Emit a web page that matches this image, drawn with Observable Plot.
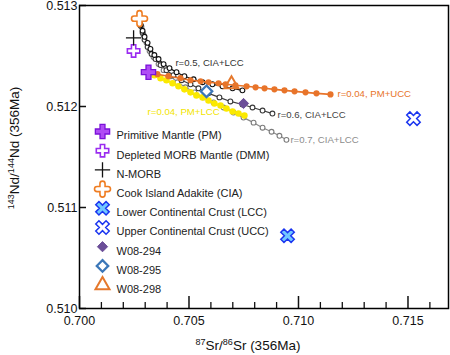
<!DOCTYPE html>
<html><head><meta charset="utf-8">
<script src="https://cdn.jsdelivr.net/npm/d3@7"></script>
<script src="https://cdn.jsdelivr.net/npm/@observablehq/plot@0.6"></script>
<style>
html,body{margin:0;padding:0;background:#fff;}
#chart{width:450px;height:355px;position:relative;}
</style></head><body><div id="chart"></div>
<script>
// ---- Data ----
// End-members: 87Sr/86Sr and 143Nd/144Nd at 356 Ma
const endNames = ["Primitive Mantle (PM)", "Depleted MORB Mantle (DMM)", "N-MORB", "Cook Island Adakite (CIA)", "Lower Continental Crust (LCC)", "Upper Continental Crust (UCC)"];
const endSr = [0.70315, 0.70247, 0.70247, 0.70274, 0.70950, 0.71525];
const endNd = [0.51234, 0.51255, 0.51268, 0.51287, 0.51072, 0.51188];

// Samples
const sampleNames = ["W08-294", "W08-295", "W08-298"];
const sampleSr = [0.70749, 0.70580, 0.70694];
const sampleNd = [0.51203, 0.51215, 0.51222];

// Mixing curves
const pmUccSr = [0.70315,0.70356,0.70406,0.70461,0.70507,0.70553,0.70589,0.70635,0.70667,0.70712,0.70763,0.70804,0.70845,0.70890,0.70936,0.70982,0.71032,0.71082,0.71146];
const pmUccNd = [0.51234,0.51232,0.51230,0.51228,0.51226,0.51225,0.51224,0.51223,0.51222,0.51221,0.51220,0.51219,0.51218,0.51217,0.51216,0.51215,0.51214,0.51213,0.51212];

const pmLccSr = [0.70315,0.70342,0.70370,0.70397,0.70425,0.70452,0.70479,0.70507,0.70534,0.70562,0.70589,0.70616,0.70644,0.70671,0.70699,0.70726,0.70753];
const pmLccNd = [0.51234,0.51231,0.51228,0.51226,0.51223,0.51220,0.51217,0.51214,0.51211,0.51209,0.51206,0.51203,0.51201,0.51198,0.51195,0.51193,0.51191];

const r05Sr = [0.70274,0.70279,0.70288,0.70297,0.70311,0.70324,0.70342,0.70361,0.70384,0.70411,0.70443,0.70479,0.70521,0.70562,0.70607,0.70653,0.70699,0.70744];
const r05Nd = [0.51287,0.51281,0.51275,0.51269,0.51263,0.51257,0.51251,0.51247,0.51242,0.51238,0.51234,0.51230,0.51227,0.51224,0.51222,0.51220,0.51218,0.51216];

const r06Sr = [0.70274,0.70279,0.70288,0.70297,0.70311,0.70329,0.70347,0.70370,0.70397,0.70429,0.70466,0.70507,0.70543,0.70589,0.70639,0.70689,0.70744,0.70790,0.70836,0.70881];
const r06Nd = [0.51287,0.51280,0.51273,0.51266,0.51259,0.51252,0.51247,0.51241,0.51236,0.51231,0.51226,0.51222,0.51218,0.51213,0.51209,0.51205,0.51202,0.51199,0.51196,0.51193];

const r07Sr = [0.70274,0.70283,0.70292,0.70306,0.70320,0.70338,0.70361,0.70384,0.70416,0.70447,0.70484,0.70525,0.70566,0.70612,0.70658,0.70703,0.70749,0.70795,0.70836,0.70877,0.70913,0.70945];
const r07Nd = [0.51287,0.51279,0.51271,0.51263,0.51255,0.51249,0.51242,0.51236,0.51230,0.51224,0.51219,0.51214,0.51209,0.51204,0.51199,0.51194,0.51189,0.51184,0.51179,0.51175,0.51171,0.51167];

// Curve labels
const curveLabels = ["r=0.04, PM+UCC", "r=0.04, PM+LCC", "r=0.5, CIA+LCC", "r=0.6, CIA+LCC", "r=0.7, CIA+LCC"];
const curveLabelSr = [0.71178, 0.70311, 0.70438, 0.70904, 0.70963];
const curveLabelNd = [0.51212, 0.51195, 0.51243, 0.51192, 0.51167];

// Axis ticks
const xMajor = [0.700, 0.705, 0.710, 0.715];
const xMinor = [0.701,0.702,0.703,0.704,0.706,0.707,0.708,0.709,0.711,0.712,0.713,0.714,0.716];
const yMajor = [0.510, 0.511, 0.512, 0.513];

// ---- Symbols ----
const roundCross = {draw(ctx, size){
  const R = Math.sqrt(size/Math.PI), w = 0.4*R, L = 0.85*R;
  ctx.moveTo(w,-w); ctx.lineTo(w,-L); ctx.arc(0,-L,w,0,Math.PI,true);
  ctx.lineTo(-w,-w); ctx.lineTo(-L,-w); ctx.arc(-L,0,w,-Math.PI/2,Math.PI/2,true);
  ctx.lineTo(-w,w); ctx.lineTo(-w,L); ctx.arc(0,L,w,Math.PI,0,true);
  ctx.lineTo(w,w); ctx.lineTo(L,w); ctx.arc(L,0,w,Math.PI/2,-Math.PI/2,true);
  ctx.closePath();
}};
const fatX = {draw(ctx, size){
  const R = Math.sqrt(size/Math.PI), L = 1.3*R, w = 0.4*R, c = Math.SQRT1_2;
  const pts = [[w,-w],[w,-L],[-w,-L],[-w,-w],[-L,-w],[-L,w],[-w,w],[-w,L],[w,L],[w,w],[L,w],[L,-w]];
  pts.forEach(([x,y],i)=>{const rx=(x-y)*c, ry=(x+y)*c; i?ctx.lineTo(rx,ry):ctx.moveTo(rx,ry);});
  ctx.closePath();
}};
const fatCross = {draw(ctx, size){
  const R = Math.sqrt(size/Math.PI), L = 1.15*R, w = 0.4*R;
  const pts = [[w,-w],[w,-L],[-w,-L],[-w,-w],[-L,-w],[-L,w],[-w,w],[-w,L],[w,L],[w,w],[L,w],[L,-w]];
  pts.forEach(([x,y],i)=> i?ctx.lineTo(x,y):ctx.moveTo(x,y));
  ctx.closePath();
}};

const endStyles = [
  {symbol: fatCross, r: 6.2, fill: "#b04cf5", stroke: "#7a12d8", strokeWidth: 1.3},
  {symbol: fatCross, r: 5.4, fill: "#fff", stroke: "#9a2cf0", strokeWidth: 1.6},
  {symbol: "plus", r: 5, fill: "none", stroke: "#111", strokeWidth: 1.3},
  {symbol: roundCross, r: 6.4, fill: "#fff", stroke: "#ef7d22", strokeWidth: 1.6},
  {symbol: fatX, r: 5.6, fill: "#72c8ff", stroke: "#1a35f0", strokeWidth: 1.5},
  {symbol: fatX, r: 5.6, fill: "#fff", stroke: "#1a35f0", strokeWidth: 1.5}
];
const sampleStyles = [
  {symbol: "diamond2", r: 4.6, fill: "#6b4e98", stroke: "#6b4e98", strokeWidth: 1},
  {symbol: "diamond2", r: 5.2, fill: "#fff", stroke: "#3b77b8", strokeWidth: 2.2},
  {symbol: "triangle", r: 5.2, fill: "none", stroke: "#e5782c", strokeWidth: 2}
];

const pts = (xs, ys) => xs.map((x, i) => ({x, y: ys[i]}));

const curves = [
  {data: pts(r07Sr, r07Nd), line: "#8a8a8a", dotStroke: "#7c7c7c", dotFill: "#fff", r: 2.4, sw: 1.2},
  {data: pts(r06Sr, r06Nd), line: "#3c3c3c", dotStroke: "#3a3a3a", dotFill: "#fff", r: 2.4, sw: 1.2},
  {data: pts(pmLccSr, pmLccNd), line: "#fbe900", dotStroke: "none", dotFill: "#fbe900", r: 3.3, sw: 1.6},
  {data: pts(r05Sr, r05Nd), line: "#111", dotStroke: "#111", dotFill: "#fff", r: 2.4, sw: 1.2},
  {data: pts(pmUccSr, pmUccNd), line: "#e8742a", dotStroke: "none", dotFill: "#e8742a", r: 3.1, sw: 1.6}
];
const labelColors = ["#e8742a", "#f2e400", "#333", "#444", "#8c8c8c"];

const marks = [];
for (const c of curves) {
  marks.push(Plot.line(c.data, {x: "x", y: "y", stroke: c.line, strokeWidth: c.sw}));
  marks.push(Plot.dot(c.data, {x: "x", y: "y", r: c.r, fill: c.dotFill, stroke: c.dotStroke, strokeWidth: 1.1}));
}
curveLabels.forEach((t, i) => {
  marks.push(Plot.text([t], {x: curveLabelSr[i], y: curveLabelNd[i], text: d => d, textAnchor: "start", fill: labelColors[i], fontSize: 9.6}));
});
endNames.forEach((n, i) => {
  marks.push(Plot.dot([n], {x: endSr[i], y: endNd[i], ...endStyles[i]}));
});
sampleNames.forEach((n, i) => {
  marks.push(Plot.dot([n], {x: sampleSr[i], y: sampleNd[i], ...sampleStyles[i]}));
});
// Legend (inside the frame, upper left)
const legendNames = endNames.concat(sampleNames);
const legendStyles = endStyles.concat(sampleStyles);
legendNames.forEach((n, i) => {
  const dy = 126 + i * 19.2;
  const st = Object.assign({}, legendStyles[i]);
  marks.push(Plot.dot([n], {frameAnchor: "top-left", dx: 23, dy, ...st}));
  marks.push(Plot.text([n], {frameAnchor: "top-left", dx: 37, dy, text: d => d, textAnchor: "start", fontSize: 11, fill: "#222"}));
});

marks.push(Plot.axisX({ticks: xMinor, tickSize: -6, tickFormat: () => "", label: null, strokeWidth: 1.3}));
marks.push(Plot.axisX({ticks: xMajor, tickSize: -12, tickPadding: 20, tickFormat: d3.format(".3f"), label: null, fontSize: 12.5, strokeWidth: 1.5}));
marks.push(Plot.axisY({ticks: yMajor, tickSize: -7, tickPadding: 9, tickFormat: d3.format(".3f"), label: null, fontSize: 12.5, strokeWidth: 1.5}));
marks.push(Plot.frame({stroke: "#000", strokeWidth: 1.5}));

const plot = Plot.plot({
  width: 450, height: 355,
  marginLeft: 79, marginRight: 2, marginTop: 5, marginBottom: 47,
  x: {domain: [0.700, 0.71685]},
  y: {domain: [0.510, 0.513]},
  style: {fontFamily: "'Liberation Sans', Arial, sans-serif", fontSize: "12.5px", color: "#111", background: "#fff", overflow: "visible"},
  marks
});

// Axis titles with superscripts
const svg = d3.select(plot);
const ff = "'Liberation Sans', Arial, sans-serif";
const xl = svg.append("text").attr("x", 248).attr("y", 350).attr("text-anchor", "middle")
  .style("font-size", "13.5px").style("font-family", ff).attr("fill", "#111");
xl.append("tspan").attr("dy", -5).style("font-size", "9px").text("87");
xl.append("tspan").attr("dy", 5).text("Sr/");
xl.append("tspan").attr("dy", -5).style("font-size", "9px").text("86");
xl.append("tspan").attr("dy", 5).text("Sr (356Ma)");

const yl = svg.append("text").attr("transform", "translate(18.5,148) rotate(-90)").attr("text-anchor", "middle")
  .style("font-size", "13.5px").style("font-family", ff).attr("fill", "#111");
yl.append("tspan").attr("dy", -5).style("font-size", "9px").text("143");
yl.append("tspan").attr("dy", 5).text("Nd/");
yl.append("tspan").attr("dy", -5).style("font-size", "9px").text("144");
yl.append("tspan").attr("dy", 5).text("Nd (356Ma)");

document.getElementById("chart").appendChild(plot);
</script>
</body></html>
